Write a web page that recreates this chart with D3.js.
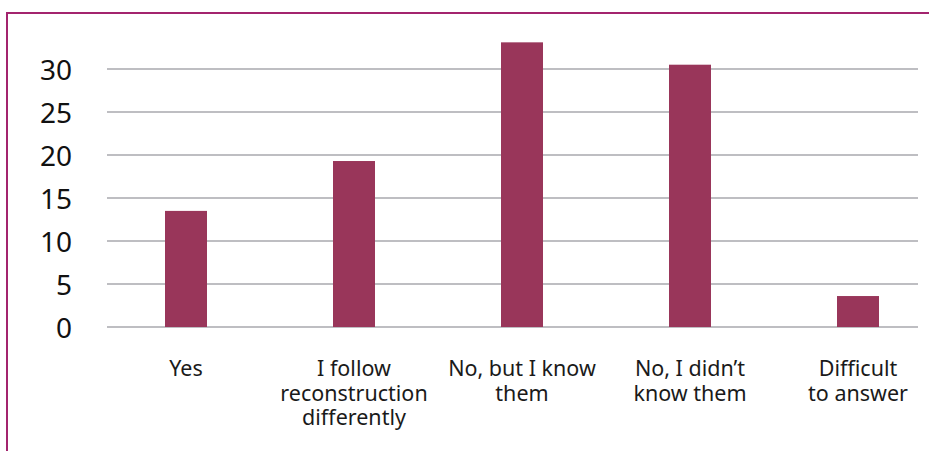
<!DOCTYPE html>
<html>
<head>
<meta charset="utf-8">
<script src="https://cdn.jsdelivr.net/npm/d3@7"></script>
<style>
  html, body { margin: 0; padding: 0; background: #ffffff; }
  svg { display: block; }
</style>
</head>
<body>
<svg id="chart" width="929" height="451"></svg>
<script>
// Survey answers and their shares (%)
const categories = [
  "Yes",
  "I follow reconstruction differently",
  "No, but I know them",
  "No, I didn\u2019t know them",
  "Difficult to answer"
];
const labelLines = [
  ["Yes"],
  ["I follow", "reconstruction", "differently"],
  ["No, but I know", "them"],
  ["No, I didn\u2019t", "know them"],
  ["Difficult", "to answer"]
];
const values = [13.5, 19.3, 33.1, 30.5, 3.6];
const yTicks = [0, 5, 10, 15, 20, 25, 30];

const svg = d3.select("#chart");
const W = 929, H = 451;

// outer frame
svg.append("rect")
  .attr("x", 7).attr("y", 13)
  .attr("width", W + 10).attr("height", H + 10)
  .attr("fill", "none")
  .attr("stroke", "#a3246e")
  .attr("stroke-width", 2);

const grid = { left: 107, right: 918 };

const y = d3.scaleLinear().domain([0, 30]).range([327, 69]);

const x = d3.scaleBand()
  .domain(categories)
  .range([102, 942])
  .paddingInner(0.75)
  .paddingOuter(0.375);

// horizontal gridlines
svg.append("g")
  .selectAll("line")
  .data(yTicks)
  .join("line")
  .attr("x1", grid.left).attr("x2", grid.right)
  .attr("y1", d => y(d)).attr("y2", d => y(d))
  .attr("stroke", "#bebec2")
  .attr("stroke-width", 2);

// y-axis labels
const yAxis = d3.axisLeft(y).tickValues(yTicks).tickSize(0).tickPadding(0);
const gy = svg.append("g").attr("transform", "translate(72,0)").call(yAxis);
gy.select(".domain").remove();
gy.selectAll("text")
  .attr("font-family", "'Noto Sans', 'Open Sans', sans-serif")
  .attr("font-size", 28)
  .attr("fill", "#111111")
  .attr("dy", "0.36em");

// bars
svg.append("g")
  .selectAll("rect")
  .data(values)
  .join("rect")
  .attr("x", (d, i) => x(categories[i]))
  .attr("width", x.bandwidth())
  .attr("y", d => y(d))
  .attr("height", d => y(0) - y(d))
  .attr("fill", "#99365a");

// category labels
const lab = svg.append("g")
  .selectAll("text")
  .data(categories)
  .join("text")
  .attr("x", d => x(d) + x.bandwidth() / 2)
  .attr("y", 376)
  .attr("text-anchor", "middle")
  .attr("font-family", "'Noto Sans', 'Open Sans', sans-serif")
  .attr("font-size", 21.5)
  .attr("fill", "#1a1a1a");

lab.each(function(d, i) {
  const t = d3.select(this);
  labelLines[i].forEach((line, j) => {
    t.append("tspan")
      .attr("x", x(d) + x.bandwidth() / 2)
      .attr("dy", j === 0 ? 0 : 24.5)
      .text(line);
  });
});
</script>
</body>
</html>
